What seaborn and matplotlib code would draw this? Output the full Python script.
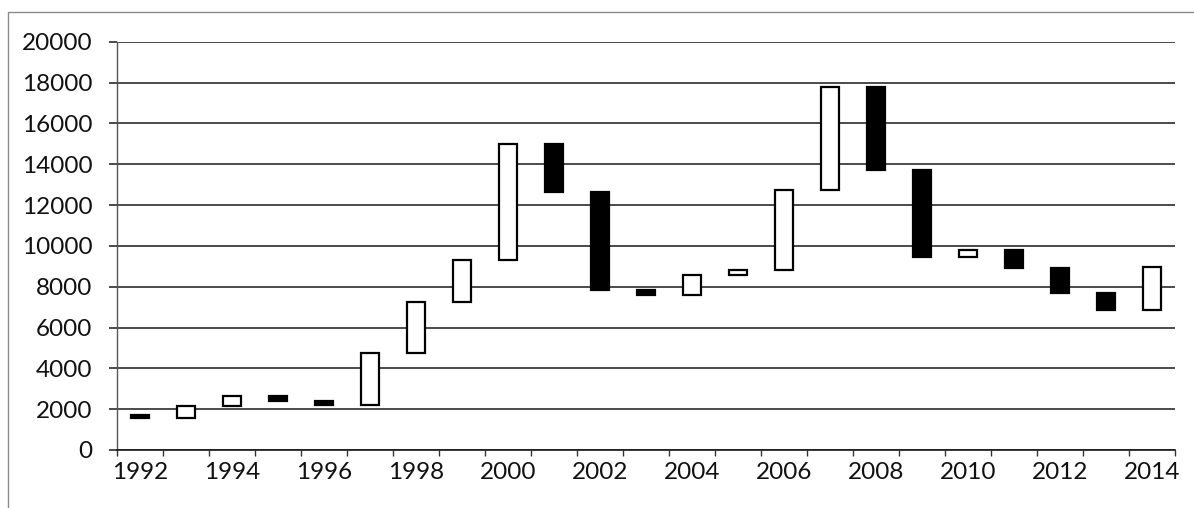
import matplotlib
matplotlib.use("Agg")
import matplotlib.pyplot as plt
import numpy as np
import pandas as pd
import seaborn as sns
from matplotlib.patches import Rectangle

# Values (value at start and end of each year)
years = [str(y) for y in range(1992, 2015)]
open_vals = [1700, 1550, 2150, 2650, 2400, 2200, 4750, 7250, 9300, 15000, 12650, 7850,
             7600, 8550, 8800, 12750, 17800, 13700, 9450, 9800, 8900, 7700, 6850]
close_vals = [1550, 2150, 2650, 2400, 2200, 4750, 7250, 9300, 15000, 12650, 7850, 7600,
              8550, 8800, 12750, 17800, 13700, 9450, 9800, 8900, 7700, 6850, 8950]
y_ticks = list(range(0, 20001, 2000))
x_labels = [str(y) for y in range(1992, 2015, 2)]

df = pd.DataFrame({"year": years, "open": open_vals, "close": close_vals})
df["change"] = df["close"] - df["open"]
df["up"] = df["change"] > 0

sns.set_theme(style="white")
plt.rcParams["font.family"] = ["Lato", "DejaVu Sans"]

fig = plt.figure(figsize=(11.94, 5.08), dpi=100)
ax = fig.add_axes([117 / 1194, 1 - 450 / 508, (1175 - 117) / 1194, (450 - 41.7) / 508])

# up years white, down years black, each bar starts at the opening value
for is_up, face in [(True, "white"), (False, "black")]:
    sub = df[df["up"] == is_up]
    sns.barplot(
        data=sub, x="year", y="change", order=years, bottom=sub["open"].values,
        color=face, saturation=1, edgecolor="black", linewidth=1.6,
        width=0.41, errorbar=None, ax=ax, zorder=3,
    )

ax.set_ylim(0, 20000)
ax.set_xlim(-0.5, len(years) - 0.5)
ax.set_yticks(y_ticks)
ax.set_yticklabels([str(v) for v in y_ticks])
ax.yaxis.grid(True, color="#1a1a1a", linewidth=1.1, zorder=0)
ax.set_axisbelow(True)

label_pos = [years.index(l) for l in x_labels]
ax.set_xticks(label_pos)
ax.set_xticklabels(x_labels)
ax.set_xticks(np.arange(-0.5, len(years), 1), minor=True)
ax.tick_params(axis="x", which="major", length=0, pad=8.5, labelsize=17.5, colors="#111111")
ax.tick_params(axis="x", which="minor", length=4.3, width=1, color="#333333", direction="out", bottom=True)
ax.tick_params(axis="y", which="major", length=5.8, width=1.1, color="#1a1a1a", left=True,
               labelsize=17.5, pad=12, colors="#111111")
ax.set_xlabel("")
ax.set_ylabel("")

for side in ["top", "right"]:
    ax.spines[side].set_visible(False)
ax.spines["left"].set_color("#555555")
ax.spines["left"].set_linewidth(1.0)
ax.spines["bottom"].set_color("#1a1a1a")
ax.spines["bottom"].set_linewidth(1.2)

# light chart-area frame
fig.patches.append(Rectangle((8 / 1194, -0.05), 1.2, 1 - 12 / 508 + 0.05,
                             transform=fig.transFigure, fill=False,
                             edgecolor="#8a8a8a", linewidth=1.0))

fig.savefig("out.png", dpi=100)
